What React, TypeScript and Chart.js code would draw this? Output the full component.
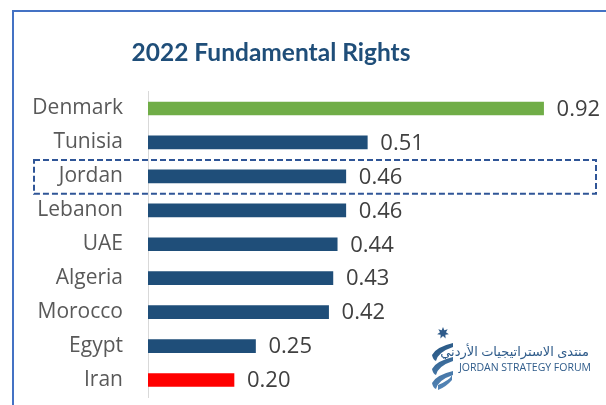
import React, { useEffect, useRef } from "react";
import { Chart, registerables } from "chart.js";

Chart.register(...registerables);

const categories = ["Denmark", "Tunisia", "Jordan", "Lebanon", "UAE", "Algeria", "Morocco", "Egypt", "Iran"];
const values = [0.92, 0.51, 0.46, 0.46, 0.44, 0.43, 0.42, 0.25, 0.2];
const barColors = ["#70AD47", "#1F4E79", "#1F4E79", "#1F4E79", "#1F4E79", "#1F4E79", "#1F4E79", "#1F4E79", "#FF0000"];
const titleText = "2022 Fundamental Rights";
const highlighted = "Jordan";
const logoArabic = "منتدى الاستراتيجيات الأردني";
const logoEnglish = "JORDAN STRATEGY FORUM";

const decorPlugin = {
  id: "decor",
  beforeDraw(chart: any) {
    const ctx = chart.ctx;
    ctx.save();
    ctx.fillStyle = "#ffffff";
    ctx.fillRect(0, 0, chart.width, chart.height);
    ctx.strokeStyle = "#4472C4";
    ctx.lineWidth = 2;
    ctx.beginPath();
    ctx.moveTo(13, chart.height);
    ctx.lineTo(13, 11);
    ctx.lineTo(chart.width, 11);
    ctx.stroke();
    ctx.fillStyle = "#1F4E79";
    ctx.font = "bold 24.5px Lato";
    ctx.textAlign = "center";
    ctx.textBaseline = "alphabetic";
    ctx.fillText(titleText, 271, 61);
    ctx.restore();
  },
  afterDraw(chart: any) {
    const ctx = chart.ctx;
    const meta = chart.getDatasetMeta(0);
    const ys = chart.scales.y;
    ctx.save();
    ctx.fillStyle = "#404040";
    ctx.font = "22px 'Open Sans'";
    ctx.textAlign = "left";
    ctx.textBaseline = "middle";
    meta.data.forEach((bar: any, i: number) => {
      ctx.fillText(values[i].toFixed(2), bar.x + 13, bar.y + 1);
    });
    const idx = categories.indexOf(highlighted);
    const yc = ys.getPixelForValue(idx);
    const half = (ys.getPixelForValue(1) - ys.getPixelForValue(0)) / 2;
    ctx.strokeStyle = "#2F5597";
    ctx.lineWidth = 2;
    ctx.setLineDash([6, 3]);
    ctx.strokeRect(34, yc - half + 0.5, 562, half * 2);
    ctx.setLineDash([]);
    ctx.fillStyle = "#2E5B8A";
    const sx = 443, sy = 333, r1 = 6, r2 = 3;
    ctx.beginPath();
    for (let k = 0; k < 14; k++) {
      const a = -Math.PI / 2 + (k * Math.PI) / 7;
      const r = k % 2 === 0 ? r1 : r2;
      const px = sx + r * Math.cos(a);
      const py = sy + r * Math.sin(a);
      if (k === 0) ctx.moveTo(px, py);
      else ctx.lineTo(px, py);
    }
    ctx.closePath();
    ctx.fill();
    const grad = ctx.createLinearGradient(430, 340, 455, 390);
    grad.addColorStop(0, "#1F4E79");
    grad.addColorStop(1, "#5B8DC0");
    ctx.fillStyle = grad;
    const ribbons = [343, 357, 371];
    ribbons.forEach((y0) => {
      ctx.beginPath();
      ctx.moveTo(453, y0);
      ctx.quadraticCurveTo(436, y0 + 4, 432, y0 + 12);
      ctx.quadraticCurveTo(433, y0 + 17, 436, y0 + 18);
      ctx.quadraticCurveTo(438, y0 + 9, 453, y0 + 4);
      ctx.closePath();
      ctx.fill();
    });
    ctx.beginPath();
    ctx.moveTo(438, 385);
    ctx.quadraticCurveTo(450, 380, 452, 375);
    ctx.lineTo(452, 380);
    ctx.quadraticCurveTo(446, 387, 438, 390);
    ctx.closePath();
    ctx.fill();
    ctx.fillStyle = "#2E5B8A";
    ctx.textBaseline = "alphabetic";
    ctx.font = "13px 'Noto Sans', 'DejaVu Sans'";
    ctx.direction = "rtl";
    ctx.textAlign = "right";
    ctx.fillText(logoArabic, 589, 356);
    ctx.direction = "ltr";
    ctx.textAlign = "left";
    ctx.font = "10.5px 'Open Sans'";
    ctx.fillText(logoEnglish, 459, 371);
    ctx.restore();
  },
};

export default function App() {
  const ref = useRef<HTMLCanvasElement>(null);
  useEffect(() => {
    document.body.style.margin = "0";
    const chart = new Chart(ref.current as HTMLCanvasElement, {
      type: "bar",
      data: {
        labels: categories,
        datasets: [
          {
            data: values,
            backgroundColor: barColors,
            barThickness: 13,
          },
        ],
      },
      options: {
        indexAxis: "y",
        responsive: false,
        animation: false,
        layout: { padding: { top: 91.5, bottom: 8, right: 28, left: 0 } },
        plugins: { legend: { display: false }, tooltip: { enabled: false }, title: { display: false } },
        scales: {
          x: { display: false, min: 0, max: 1 },
          y: {
            afterFit: (scale: any) => {
              scale.width = 148;
            },
            grid: {
              display: true,
              drawOnChartArea: false,
              drawTicks: true,
              tickLength: 25,
              color: "rgba(0,0,0,0)",
              tickColor: "rgba(0,0,0,0)",
            },
            border: { display: true, color: "#D9D9D9", width: 1 },
            ticks: { color: "#595959", font: { family: "Open Sans", size: 21, lineHeight: 0.7 }, padding: 0 },
          },
        },
      },
      plugins: [decorPlugin],
    });
    return () => chart.destroy();
  }, []);
  return (
    <div style={{ position: "absolute", left: 0, top: 0, width: 606, height: 405 }}>
      <canvas ref={ref} width={606} height={405} />
    </div>
  );
}
